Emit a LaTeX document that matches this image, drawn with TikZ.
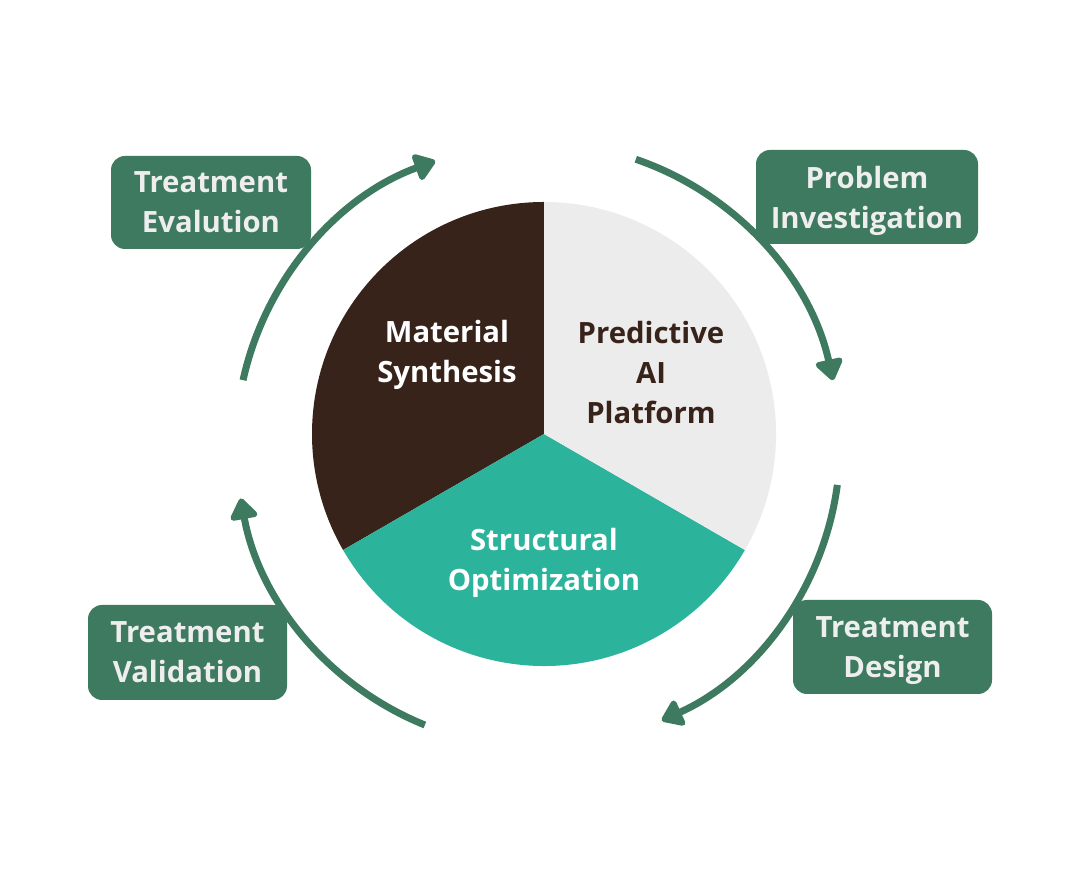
\documentclass[tikz,border=0pt]{standalone}
\usepackage{fontspec}
\setmainfont{Open Sans}
\usetikzlibrary{arrows.meta,calc}
\definecolor{boxgreen}{HTML}{3E7A5F}
\definecolor{boxtext}{HTML}{EEEEEE}
\definecolor{darkbrown}{HTML}{38231A}
\definecolor{teal}{HTML}{2CB39B}
\definecolor{lightgrey}{HTML}{ECECEC}
\begin{document}
\begin{tikzpicture}[x=1pt,y=1pt,
  lbl/.style={font=\bfseries\fontsize{29.3}{40}\selectfont, align=center, inner sep=0pt},
  stagebox/.style={lbl, fill=boxgreen, text=boxtext, rounded corners=14pt, text depth=0pt},
  cyclearrow/.style={draw=boxgreen, line width=7pt, -{Triangle[length=23pt,width=31pt,round]}}]
\useasboundingbox (0,0) rectangle (1080,880);
\fill[white] (0,0) rectangle (1080,880);
% pie
\coordinate (P) at (544,446);
\fill[darkbrown] (P) -- ++(90:232) arc[start angle=90,end angle=210,radius=232] -- cycle;
\fill[teal] (P) -- ++(210:232) arc[start angle=210,end angle=330,radius=232] -- cycle;
\fill[lightgrey] (P) -- ++(-30:232) arc[start angle=-30,end angle=90,radius=232] -- cycle;
\node[lbl, text=white] (msyn) at (447,525) {Material\\Synthesis};
\node[lbl, text=darkbrown] (pai) at (651,507.5) {Predictive\\AI\\Platform};
\node[lbl, text=white] (sopt) at (544,317) {Structural\\Optimization};
% stage boxes
\node[stagebox, minimum width=200pt, minimum height=93pt] (eval) at (211,677.5) {Treatment\\Evalution};
\node[stagebox, minimum width=222pt, minimum height=94pt] (invest) at (867,683) {Problem\\Investigation};
\node[stagebox, minimum width=199pt, minimum height=94pt] (design) at (892.5,233) {Treatment\\Design};
\node[stagebox, minimum width=199pt, minimum height=95pt] (valid) at (187.5,227.5) {Treatment\\Validation};
% cycle arrows
\coordinate (C) at (538,435);
\draw[cyclearrow] ($(C)+(167.6:302)$) arc[start angle=167.6,end angle=109.9,radius=302];
\draw[cyclearrow] ($(C)+(71.1:302)$) arc[start angle=71.1,end angle=12.4,radius=302];
\draw[cyclearrow] ($(C)+(-7.6:302)$) arc[start angle=-7.6,end angle=-65.8,radius=302];
\draw[cyclearrow] ($(C)+(-112:302)$) arc[start angle=-112,end angle=-169.8,radius=302];
\end{tikzpicture}
\end{document}
